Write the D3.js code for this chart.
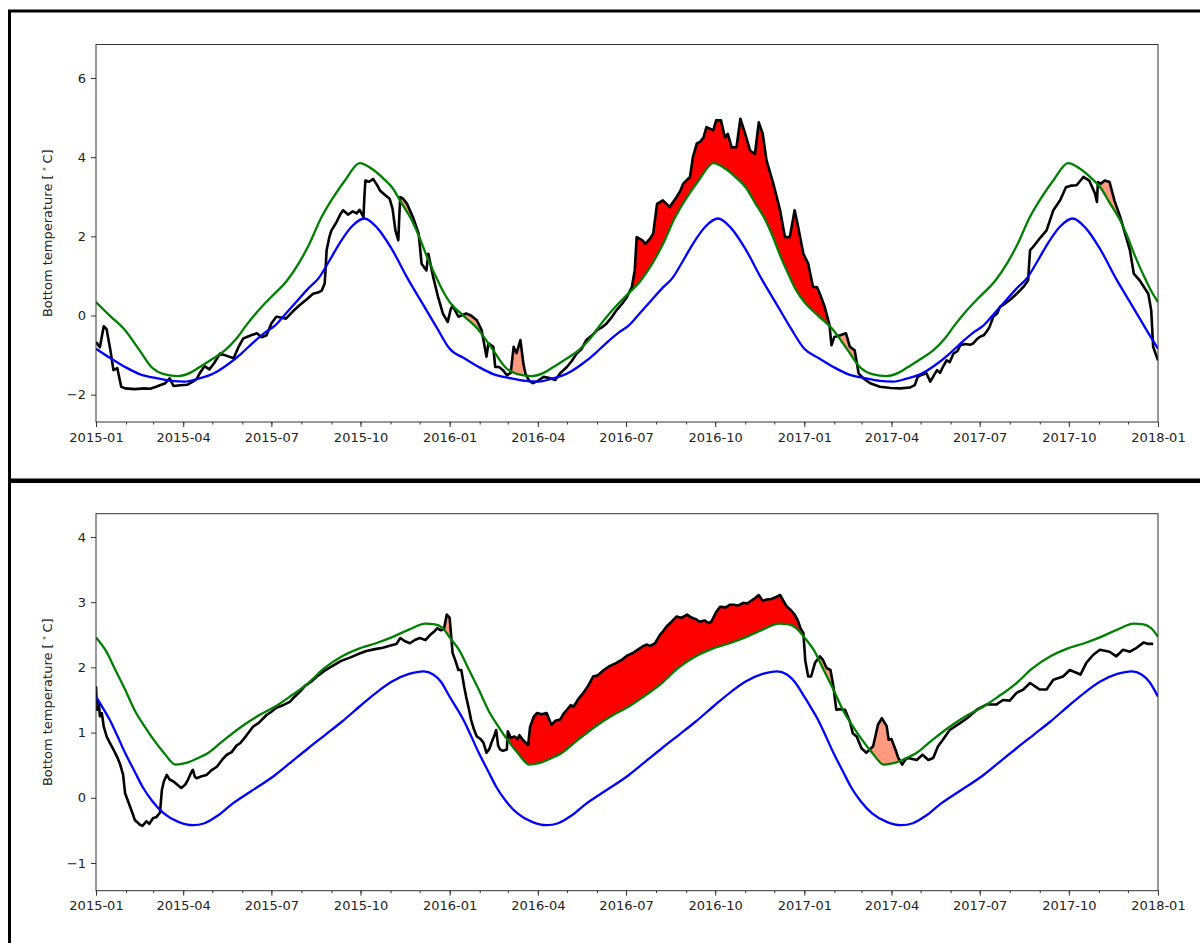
<!DOCTYPE html>
<html>
<head>
<meta charset="utf-8">
<script src="https://cdn.jsdelivr.net/npm/d3@7"></script>
<style>
  body { margin: 0; background: #fff; }
  svg { display: block; font-family: "DejaVu Sans", sans-serif; }
</style>
</head>
<body>
<div id="chart"></div>
<script>
// ---- shared x ticks ----
const xTickLabels = ["2015-01", "2015-04", "2015-07", "2015-10", "2016-01", "2016-04", "2016-07",
  "2016-10", "2017-01", "2017-04", "2017-07", "2017-10", "2018-01"];

// ---- top panel ----
const topYTicks = [-2, 0, 2, 4, 6];
// climatology / threshold by day of year
const topClimDoy = [0, 15, 30, 45, 64, 78, 92, 105, 116, 126, 138, 150, 161, 175, 185, 196, 208, 219,
  230, 241, 252, 264, 277, 290, 305, 322, 339, 352, 365];
const topClimVals = [-0.84, -1.08, -1.30, -1.48, -1.59, -1.65, -1.67, -1.60, -1.52, -1.40, -1.20, -0.96,
  -0.71, -0.42, -0.25, 0.05, 0.38, 0.68, 0.95, 1.39, 1.85, 2.25, 2.45, 2.22, 1.69, 0.92, 0.22, -0.32, -0.84];
const topThreshDoy = [0, 15, 30, 45, 58, 70, 85, 97, 107, 120, 133, 145, 155, 166, 180, 197, 210, 220,
  232, 245, 258, 272, 285, 297, 306, 315, 325, 333, 341, 350, 358, 365];
const topThreshVals = [0.34, -0.02, -0.37, -0.88, -1.32, -1.48, -1.53, -1.45, -1.30, -1.10, -0.88, -0.58,
  -0.25, 0.08, 0.45, 0.88, 1.35, 1.80, 2.45, 2.99, 3.45, 3.85, 3.70, 3.45, 3.22, 2.85, 2.45, 2.02, 1.52,
  1.02, 0.62, 0.34];
// observed, days since 2015-01-01
const topObsDays = [0, 4, 8, 11, 15, 18, 22, 26, 30, 40, 50, 56, 62, 66, 71, 76, 80, 87, 94, 100, 104, 107,
  112, 117, 122, 128, 135, 142, 147, 152, 160, 166, 171, 176, 181, 186, 191, 196, 203, 210, 217, 224, 229,
  233, 236, 237, 238, 241, 243, 248, 252, 255, 260, 265, 269, 272, 276, 277, 278, 282, 286, 290, 293, 298,
  303, 306, 309, 312, 313, 314, 317, 321, 327, 333, 336, 341, 343, 348, 353, 358, 363, 366, 368, 374, 382,
  387, 393, 398, 403, 405, 410, 412, 416, 420, 424, 428, 431, 434, 438, 441, 443, 447, 451, 456, 462, 468,
  474, 479, 486, 491, 496, 501, 506, 512, 517, 522, 527, 532, 537, 543, 548, 553, 556, 558, 564, 567, 572,
  575, 579, 585, 592, 599, 603, 606, 613, 616, 620, 624, 627, 630, 637, 640, 645, 649, 652, 656, 661, 665,
  670, 675, 680, 684, 688, 692, 699, 706, 711, 716, 721, 724, 730, 735, 740, 744, 747, 752, 757, 759, 762,
  768, 774, 778, 783, 787, 792, 799, 809, 820, 830, 840, 845, 848, 852, 857, 861, 865, 868, 871, 874, 878,
  881, 885, 889, 892, 897, 902, 905, 909, 912, 916, 919, 922, 926, 930, 933, 938, 943, 948, 954, 958, 962,
  963, 964, 967, 974, 981, 988, 995, 1001, 1006, 1012, 1019, 1025, 1031, 1033, 1034, 1037, 1041, 1046,
  1051, 1057, 1062, 1067, 1071, 1077, 1082, 1086, 1089, 1091, 1096];
const topObsVals = [-0.67, -0.80, -0.27, -0.35, -0.90, -1.38, -1.33, -1.80, -1.84, -1.86, -1.84, -1.85,
  -1.80, -1.76, -1.72, -1.59, -1.78, -1.76, -1.75, -1.67, -1.60, -1.46, -1.28, -1.36, -1.20, -0.96, -1.02,
  -1.08, -0.80, -0.58, -0.50, -0.45, -0.55, -0.50, -0.20, -0.03, -0.05, -0.08, 0.10, 0.26, 0.40, 0.55, 0.58,
  0.63, 0.81, 1.20, 1.65, 2.00, 2.15, 2.35, 2.55, 2.66, 2.55, 2.63, 2.58, 2.67, 2.49, 3.00, 3.41, 3.38, 3.45,
  3.30, 3.16, 3.05, 2.95, 2.70, 2.15, 1.90, 2.50, 2.99, 2.95, 2.82, 2.49, 2.07, 1.31, 1.14, 1.56, 0.97, 0.47,
  0.05, -0.16, 0.15, 0.25, -0.03, 0.05, 0.00, -0.12, -0.37, -1.04, -0.70, -0.79, -1.30, -1.30, -1.38, -1.51,
  -1.45, -0.79, -0.95, -0.62, -1.20, -1.46, -1.65, -1.71, -1.65, -1.55, -1.58, -1.63, -1.46, -1.30, -1.15,
  -0.96, -0.85, -0.62, -0.50, -0.37, -0.30, -0.20, -0.05, 0.13, 0.30, 0.47, 0.72, 1.14, 1.98, 1.90, 1.81,
  1.95, 2.07, 2.82, 2.91, 2.74, 2.99, 3.15, 3.33, 3.50, 4.00, 4.34, 4.40, 4.50, 4.76, 4.68, 4.93, 4.93, 4.50,
  4.59, 4.25, 4.25, 4.97, 4.59, 4.17, 4.08, 4.88, 4.60, 3.92, 3.33, 2.66, 1.98, 1.98, 2.66, 2.32, 1.56, 1.31,
  0.72, 0.72, 0.55, 0.22, -0.24, -0.75, -0.54, -0.50, -0.45, -0.79, -0.88, -1.46, -1.59, -1.71, -1.80, -1.83,
  -1.84, -1.82, -1.76, -1.55, -1.50, -1.46, -1.67, -1.50, -1.38, -1.45, -1.30, -1.13, -1.18, -0.96, -0.90,
  -0.75, -0.72, -0.74, -0.71, -0.60, -0.54, -0.50, -0.41, -0.30, -0.03, 0.05, 0.22, 0.30, 0.39, 0.50, 0.64,
  0.75, 0.89, 1.30, 1.65, 1.73, 1.95, 2.15, 2.66, 2.91, 3.24, 3.28, 3.29, 3.50, 3.41, 3.08, 2.87, 3.37, 3.33,
  3.41, 3.37, 2.91, 2.49, 2.07, 1.65, 1.06, 0.89, 0.70, 0.55, 0.13, -0.79, -1.13];
// events (day ranges), the big one in red
const topEventStart = [309, 374, 426, 548, 759, 1029];
const topEventEnd = [336, 403, 441, 759, 787, 1064];
const topEventMajor = [false, false, false, true, false, false];

// ---- bottom panel ----
const bottomYTicks = [-1, 0, 1, 2, 3, 4];
const bottomClimDoy = [0, 7, 14, 22, 30, 40, 48, 58, 70, 85, 100, 112, 125, 140, 160, 185, 200, 219, 237,
  254, 272, 289, 305, 323, 338, 348, 356, 365];
const bottomClimVals = [1.55, 1.38, 1.20, 0.95, 0.69, 0.40, 0.17, -0.05, -0.24, -0.37, -0.42, -0.39, -0.28,
  -0.10, 0.10, 0.35, 0.53, 0.76, 0.97, 1.17, 1.40, 1.61, 1.78, 1.90, 1.94, 1.89, 1.78, 1.55];
const bottomThreshDoy = [0, 10, 20, 30, 40, 50, 60, 70, 82, 92, 104, 116, 130, 150, 170, 185, 200, 219, 235,
  254, 270, 289, 305, 323, 340, 350, 358, 365];
const bottomThreshVals = [2.46, 2.26, 1.96, 1.66, 1.34, 1.10, 0.88, 0.69, 0.51, 0.53, 0.60, 0.69, 0.86, 1.09,
  1.28, 1.40, 1.55, 1.76, 1.98, 2.17, 2.28, 2.37, 2.46, 2.58, 2.67, 2.66, 2.60, 2.47];
const bottomObsDays = [0, 1, 3, 4, 6, 8, 11, 14, 18, 22, 25, 28, 30, 33, 35, 38, 40, 43, 45, 48, 52, 55, 59,
  62, 66, 68, 70, 73, 76, 80, 84, 88, 92, 95, 98, 100, 102, 104, 109, 114, 119, 125, 130, 135, 140, 145, 149,
  155, 162, 168, 176, 181, 186, 193, 200, 205, 210, 216, 222, 228, 236, 245, 253, 262, 270, 279, 288, 296,
  303, 310, 314, 319, 324, 329, 334, 340, 345, 349, 352, 356, 359, 362, 365, 368, 371, 374, 377, 380, 382,
  385, 387, 390, 393, 397, 400, 403, 406, 408, 411, 413, 415, 417, 420, 424, 425, 428, 432, 435, 437, 441,
  446, 448, 452, 455, 460, 465, 470, 474, 479, 483, 486, 490, 493, 498, 503, 508, 513, 518, 524, 530, 537,
  543, 548, 554, 560, 564, 568, 572, 577, 582, 585, 589, 594, 599, 604, 610, 615, 619, 623, 628, 632, 635,
  640, 644, 650, 654, 658, 663, 668, 672, 675, 680, 684, 688, 692, 697, 702, 706, 709, 713, 717, 721, 724,
  727, 730, 732, 735, 738, 742, 747, 750, 754, 758, 761, 764, 768, 773, 778, 781, 785, 790, 795, 802, 807,
  811, 816, 818, 821, 825, 828, 832, 835, 838, 847, 853, 859, 864, 869, 874, 881, 892, 899, 909, 919, 929,
  936, 943, 950, 957, 964, 974, 981, 988, 998, 1005, 1016, 1022, 1029, 1036, 1046, 1053, 1060, 1067, 1074,
  1081, 1086, 1091, 1096];
const bottomObsVals = [1.71, 1.35, 1.45, 1.25, 1.30, 1.09, 0.94, 0.85, 0.74, 0.62, 0.51, 0.35, 0.07, -0.05,
  -0.13, -0.25, -0.34, -0.38, -0.41, -0.43, -0.36, -0.40, -0.31, -0.30, -0.23, 0.12, 0.25, 0.35, 0.28, 0.25,
  0.20, 0.15, 0.20, 0.28, 0.38, 0.43, 0.32, 0.30, 0.33, 0.35, 0.42, 0.48, 0.58, 0.66, 0.70, 0.80, 0.84, 0.95,
  1.09, 1.15, 1.27, 1.32, 1.38, 1.42, 1.47, 1.55, 1.62, 1.72, 1.78, 1.86, 1.95, 2.03, 2.10, 2.15, 2.20, 2.25,
  2.28, 2.30, 2.33, 2.36, 2.45, 2.40, 2.37, 2.42, 2.45, 2.42, 2.50, 2.55, 2.60, 2.57, 2.58, 2.81, 2.76, 2.22,
  2.10, 1.96, 1.96, 1.70, 1.55, 1.35, 1.20, 1.05, 0.94, 0.90, 0.84, 0.69, 0.75, 0.84, 0.95, 1.04, 0.80, 0.74,
  0.72, 0.74, 1.02, 0.92, 0.94, 0.90, 0.96, 0.88, 0.81, 1.09, 1.25, 1.30, 1.28, 1.30, 1.12, 1.18, 1.20, 1.30,
  1.35, 1.42, 1.40, 1.52, 1.61, 1.72, 1.86, 1.88, 1.96, 2.02, 2.07, 2.12, 2.18, 2.22, 2.28, 2.32, 2.35, 2.33,
  2.37, 2.50, 2.55, 2.63, 2.70, 2.78, 2.76, 2.81, 2.76, 2.74, 2.70, 2.72, 2.68, 2.70, 2.85, 2.93, 2.92, 2.96,
  2.96, 2.95, 2.99, 2.98, 3.01, 3.06, 3.11, 3.02, 3.04, 3.05, 3.08, 3.11, 3.03, 2.93, 2.88, 2.81, 2.73, 2.60,
  2.53, 2.10, 1.86, 1.86, 2.07, 2.17, 2.12, 1.99, 1.96, 1.71, 1.35, 1.36, 1.35, 1.17, 0.99, 0.94, 0.76, 0.69,
  0.79, 1.12, 1.22, 1.10, 0.89, 0.90, 0.74, 0.61, 0.51, 0.58, 0.61, 0.58, 0.66, 0.58, 0.61, 0.79, 0.89, 1.04,
  1.15, 1.22, 1.35, 1.43, 1.43, 1.50, 1.49, 1.61, 1.66, 1.76, 1.66, 1.66, 1.81, 1.86, 1.96, 1.89, 2.07, 2.19,
  2.27, 2.24, 2.17, 2.27, 2.24, 2.30, 2.38, 2.36, 2.36];
const bottomEventStart = [355, 417, 734];
const bottomEventEnd = [372, 733, 836];
const bottomEventMajor = [false, true, false];

// ---- layout ----
const width = 1200, height = 943;
const plotLeft = 96, plotRight = 1158;
const START = Date.UTC(2015, 0, 1), DAY = 864e5;
const dayToDate = d => new Date(START + d * DAY);

// climatology repeats every year
const expandClim = (doys, vals) => {
  const out = [];
  [2015, 2016, 2017].forEach((yr, i) => {
    const y0 = Date.UTC(yr, 0, 1);
    doys.forEach((doy, j) => {
      if (doy === 365 && i < 2) return;
      out.push({ date: new Date(y0 + doy * DAY), v: vals[j] });
    });
  });
  return out;
};

const panels = [
  { frameTop: 11, frameBottom: 480, top: 44.5, bottom: 422, domain: [-2.69, 6.846], yTicks: topYTicks,
    climDoy: topClimDoy, climVals: topClimVals, threshDoy: topThreshDoy, threshVals: topThreshVals,
    obsDays: topObsDays, obsVals: topObsVals,
    evStart: topEventStart, evEnd: topEventEnd, evMajor: topEventMajor },
  { frameTop: 481.5, frameBottom: 990, top: 513.7, bottom: 890.7, domain: [-1.425, 4.357], yTicks: bottomYTicks,
    climDoy: bottomClimDoy, climVals: bottomClimVals, threshDoy: bottomThreshDoy, threshVals: bottomThreshVals,
    obsDays: bottomObsDays, obsVals: bottomObsVals,
    evStart: bottomEventStart, evEnd: bottomEventEnd, evMajor: bottomEventMajor }
];

const svg = d3.select("#chart").append("svg")
  .attr("width", width)
  .attr("height", height);

const parseMonth = d3.utcParse("%Y-%m");
const majorTicks = xTickLabels.map(parseMonth);
const minorTicks = d3.utcMonth.range(majorTicks[0], d3.utcDay.offset(majorTicks[majorTicks.length - 1], 1));

const xScale = d3.scaleUtc()
  .domain([majorTicks[0], majorTicks[majorTicks.length - 1]])
  .range([plotLeft, plotRight]);

panels.forEach((p, i) => {
  // outer frame
  svg.append("rect")
    .attr("x", 9.5).attr("y", p.frameTop)
    .attr("width", 1300).attr("height", p.frameBottom - p.frameTop)
    .attr("fill", "none").attr("stroke", "#000").attr("stroke-width", 3);

  const yScale = d3.scaleLinear().domain(p.domain).range([p.bottom, p.top]);

  const obs = p.obsDays.map((d, j) => ({ date: dayToDate(d), day: d, v: p.obsVals[j] }));
  const seas = expandClim(p.climDoy, p.climVals);
  const thresh = expandClim(p.threshDoy, p.threshVals);

  const line = d3.line().x(d => xScale(d.date)).y(d => yScale(d.v));
  const smooth = d3.line().x(d => xScale(d.date)).y(d => yScale(d.v)).curve(d3.curveMonotoneX);

  const defs = svg.append("defs");
  defs.append("clipPath").attr("id", `plot-${i}`)
    .append("rect")
      .attr("x", plotLeft).attr("y", p.top)
      .attr("width", plotRight - plotLeft).attr("height", p.bottom - p.top);
  // area above the threshold: events get filled only where obs > thresh
  defs.append("clipPath").attr("id", `above-${i}`)
    .append("path")
      .attr("d", d3.area()
        .x(d => xScale(d.date))
        .y0(p.top - 10)
        .y1(d => yScale(d.v))
        .curve(d3.curveMonotoneX)(thresh));

  const inner = svg.append("g").attr("clip-path", `url(#plot-${i})`);

  const events = p.evStart.map((s, j) => ({
    major: p.evMajor[j],
    pts: obs.filter(o => o.day >= s && o.day <= p.evEnd[j])
  }));

  const eventArea = d3.area()
    .x(d => xScale(d.date))
    .y0(p.bottom + 10)
    .y1(d => yScale(d.v));

  inner.append("g")
    .attr("clip-path", `url(#above-${i})`)
    .selectAll("path")
    .data(events)
    .join("path")
      .attr("d", d => eventArea(d.pts))
      .attr("fill", d => d.major ? "#ff0000" : "rgb(255,153,128)");

  inner.append("path")
    .attr("d", line(obs))
    .attr("fill", "none").attr("stroke", "#000").attr("stroke-width", 2.6)
    .attr("stroke-linejoin", "round");
  inner.append("path")
    .attr("d", smooth(thresh))
    .attr("fill", "none").attr("stroke", "#008000").attr("stroke-width", 2.3);
  inner.append("path")
    .attr("d", smooth(seas))
    .attr("fill", "none").attr("stroke", "#0000ff").attr("stroke-width", 2.3);

  // spines
  svg.append("rect")
    .attr("x", plotLeft).attr("y", p.top)
    .attr("width", plotRight - plotLeft).attr("height", p.bottom - p.top)
    .attr("fill", "none").attr("stroke", "#333").attr("stroke-width", 1);

  // x axis: minor monthly ticks, major quarterly labels
  svg.append("g")
    .attr("transform", `translate(0, ${p.bottom})`)
    .call(d3.axisBottom(xScale).tickValues(minorTicks).tickFormat("").tickSize(2.5).tickSizeOuter(0))
    .call(g => g.select(".domain").remove());
  const xAxis = svg.append("g")
    .attr("transform", `translate(0, ${p.bottom})`)
    .call(d3.axisBottom(xScale)
      .tickValues(majorTicks)
      .tickFormat(d3.utcFormat("%Y-%m"))
      .tickSize(5)
      .tickPadding(5.5)
      .tickSizeOuter(0));
  xAxis.select(".domain").remove();

  const yAxis = svg.append("g")
    .attr("transform", `translate(${plotLeft}, 0)`)
    .call(d3.axisLeft(yScale)
      .tickValues(p.yTicks)
      .tickFormat(d3.format("d"))
      .tickSize(5)
      .tickPadding(5)
      .tickSizeOuter(0));
  yAxis.select(".domain").remove();

  [xAxis, yAxis].forEach(ax => {
    ax.selectAll("text").attr("font-size", 13).attr("fill", "#222")
      .attr("font-family", "DejaVu Sans, sans-serif");
  });
  svg.selectAll(".tick line").attr("stroke", "#333");

  // y label
  const label = svg.append("text")
    .attr("transform", `translate(52, ${(p.top + p.bottom) / 2}) rotate(-90)`)
    .attr("text-anchor", "middle")
    .attr("font-size", 13)
    .attr("fill", "#222");
  label.append("tspan").text("Bottom temperature [\u2009");
  label.append("tspan").text("\u2218").attr("font-size", 9).attr("dy", -5);
  label.append("tspan").text("\u2009C]").attr("dy", 5);
});
</script>
</body>
</html>
